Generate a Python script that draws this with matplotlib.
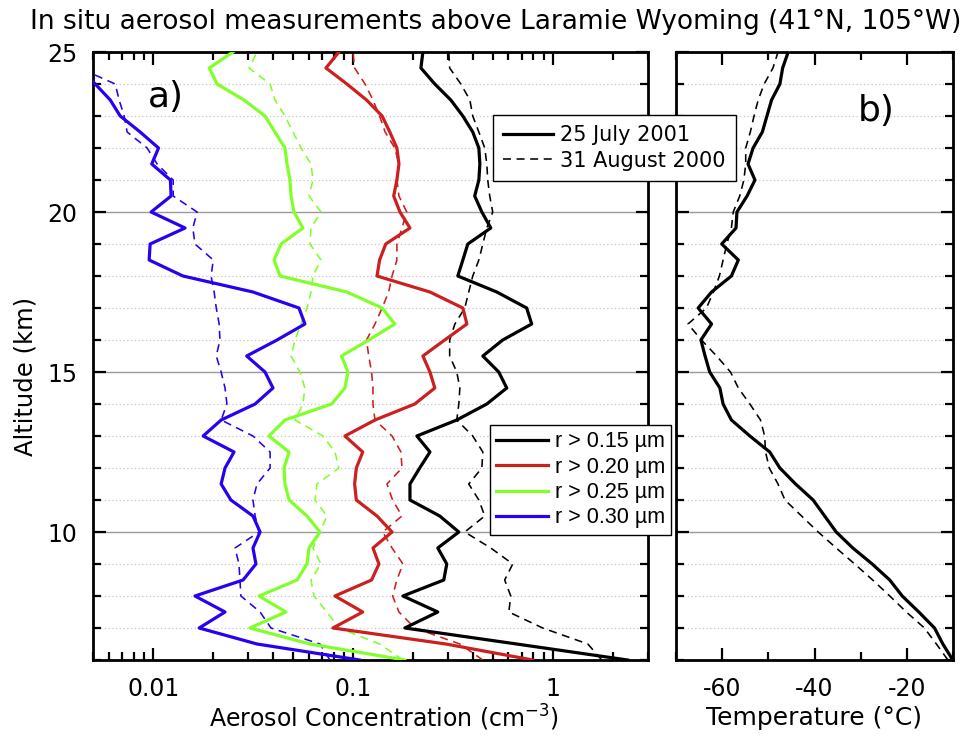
import matplotlib
matplotlib.use("Agg")
import matplotlib.pyplot as plt
from matplotlib.lines import Line2D
from matplotlib.ticker import LogLocator, MultipleLocator, FixedLocator, FixedFormatter, NullFormatter

plt.rcParams['font.family'] = ['DejaVu Sans']
plt.rcParams['axes.unicode_minus'] = False

# Altitude levels of the balloon profiles (km)
altitude_km = [6.0, 6.5, 7.0, 7.5, 8.0, 8.5, 9.0, 9.5, 10.0, 10.5, 11.0, 11.5, 12.0,
               12.5, 13.0, 13.5, 14.0, 14.5, 15.0, 15.5, 16.0, 16.5, 17.0, 17.5, 18.0,
               18.5, 19.0, 19.5, 20.0, 20.5, 21.0, 21.5, 22.0, 22.5, 23.0, 23.5, 24.0,
               24.5, 25.0]

# Aerosol concentrations (cm^-3), 25 July 2001
r015_2001 = [2.37, 0.66, 0.182, 0.266, 0.178, 0.285, 0.295, 0.266, 0.339, 0.272, 0.193, 0.193,
             0.216, 0.243, 0.209, 0.331, 0.468, 0.589, 0.537, 0.447, 0.562, 0.785, 0.741, 0.525,
             0.335, 0.355, 0.376, 0.490, 0.442, 0.407, 0.427, 0.432, 0.427, 0.398, 0.355, 0.309,
             0.257, 0.219, 0.224]
r020_2001 = [0.794, 0.292, 0.0794, 0.112, 0.0813, 0.124, 0.135, 0.126, 0.157, 0.132, 0.104, 0.102,
             0.104, 0.112, 0.0912, 0.129, 0.204, 0.257, 0.243, 0.224, 0.288, 0.372, 0.355, 0.243,
             0.132, 0.136, 0.146, 0.193, 0.172, 0.160, 0.166, 0.170, 0.166, 0.153, 0.140, 0.117,
             0.0933, 0.0733, 0.0851]
r025_2001 = [0.182, 0.061, 0.0305, 0.0462, 0.0339, 0.0525, 0.0589, 0.0603, 0.0684, 0.0589, 0.0479,
             0.0457, 0.0452, 0.0479, 0.0380, 0.0457, 0.0782, 0.0912, 0.0944, 0.0877, 0.120, 0.162,
             0.140, 0.0933, 0.0432, 0.0403, 0.0437, 0.0562, 0.0507, 0.0490, 0.0484, 0.0468, 0.0457,
             0.0407, 0.0363, 0.0285, 0.0209, 0.0191, 0.0251]
r030_2001 = [0.108, 0.0331, 0.0170, 0.0229, 0.0162, 0.0282, 0.0327, 0.0316, 0.0343, 0.0316, 0.0245,
             0.0219, 0.0229, 0.0254, 0.0178, 0.0219, 0.0324, 0.0398, 0.0363, 0.0294, 0.0417, 0.0575,
             0.0537, 0.0316, 0.0141, 0.00955, 0.00966, 0.01445, 0.00977, 0.0123, 0.0122, 0.00984,
             0.01064, 0.00861, 0.00684, 0.0061, 0.00513, 0.00427, 0.00355]

# Aerosol concentrations (cm^-3), 31 August 2000
r015_2000 = [1.76, 1.50, 0.891, 0.603, 0.617, 0.575, 0.631, 0.490, 0.363, 0.457, 0.427, 0.380,
             0.442, 0.447, 0.398, 0.331, 0.339, 0.343, 0.331, 0.305, 0.305, 0.324, 0.363, 0.380,
             0.398, 0.427, 0.447, 0.468, 0.501, 0.484, 0.473, 0.468, 0.457, 0.427, 0.398, 0.385,
             0.347, 0.305, 0.302]
r020_2000 = [0.447, 0.343, 0.204, 0.170, 0.158, 0.166, 0.178, 0.157, 0.141, 0.176, 0.158, 0.148,
             0.176, 0.174, 0.157, 0.129, 0.126, 0.126, 0.124, 0.120, 0.117, 0.129, 0.140, 0.151,
             0.157, 0.166, 0.166, 0.176, 0.186, 0.170, 0.166, 0.170, 0.162, 0.145, 0.136, 0.126,
             0.115, 0.102, 0.100]
r025_2000 = [0.178, 0.136, 0.0851, 0.0741, 0.0638, 0.0617, 0.0692, 0.0631, 0.0684, 0.0741, 0.0646,
             0.0661, 0.0851, 0.0813, 0.0708, 0.0513, 0.0562, 0.0575, 0.0543, 0.0490, 0.0513, 0.0550,
             0.0589, 0.0617, 0.0631, 0.0692, 0.0610, 0.0617, 0.0692, 0.0603, 0.0631, 0.0617, 0.0550,
             0.0501, 0.0457, 0.0407, 0.0385, 0.0302, 0.0331]
r030_2000 = [0.0767, 0.0684, 0.0389, 0.0343, 0.0275, 0.0272, 0.0269, 0.0257, 0.0339, 0.0324, 0.0316,
             0.0331, 0.0385, 0.0385, 0.0316, 0.0219, 0.0234, 0.0229, 0.0219, 0.0207, 0.0216, 0.0214,
             0.0207, 0.0202, 0.0195, 0.0200, 0.0162, 0.0158, 0.0166, 0.0126, 0.0126, 0.01047,
             0.00933, 0.00741, 0.00716, 0.00676, 0.00646, 0.00427, 0.00355]

# Temperature profiles (deg C)
temp_2001 = [-10.05, -12.2, -14.0, -17.4, -21.0, -23.7, -27.5, -31.7, -35.3, -37.8, -40.3, -44.1,
             -47.5, -49.7, -54.0, -58.0, -59.8, -60.5, -62.7, -63.7, -64.6, -62.3, -65.2, -62.3,
             -58.0, -56.5, -60.1, -57.0, -56.8, -54.6, -52.9, -54.4, -53.3, -51.3, -50.3, -49.3,
             -47.5, -46.9, -45.7]
temp_2000 = [-11.1, -13.6, -16.2, -20.1, -23.7, -27.4, -31.3, -35.3, -39.2, -42.8, -46.4, -47.9,
             -49.8, -50.6, -50.8, -51.7, -54.0, -56.5, -58.2, -61.2, -64.5, -67.4, -63.4, -61.9,
             -60.6, -59.8, -59.0, -58.0, -57.6, -56.2, -55.3, -54.9, -54.9, -53.9, -53.1, -52.2,
             -50.9, -49.0, -47.9]

size_labels = ["r > 0.15 µm", "r > 0.20 µm", "r > 0.25 µm", "r > 0.30 µm"]
size_colors = ["#000000", "#CC1F1F", "#80FF2A", "#2A00F0"]
date_labels = ["25 July 2001", "31 August 2000"]
conc_tick_values = [0.01, 0.1, 1]
conc_tick_labels = ["0.01", "0.1", "1"]
alt_tick_values = [10, 15, 20, 25]
temp_tick_values = [-60, -40, -20]

W, H = 974, 737
fig = plt.figure(figsize=(W / 100, H / 100), dpi=100)


def box(left, top, right, bottom):
    return [left / W, 1 - bottom / H, (right - left) / W, (bottom - top) / H]


ax_a = fig.add_axes(box(93, 52, 648, 660))
ax_b = fig.add_axes(box(676, 52, 953, 660))

SOLID_LW = 2.3
DASH_LW = 1.15
DASH = (0, (5, 3.5))

series_2001 = [r015_2001, r020_2001, r025_2001, r030_2001]
series_2000 = [r015_2000, r020_2000, r025_2000, r030_2000]
for vals, col in zip(series_2000, size_colors):
    ax_a.plot(vals, altitude_km, color=col, lw=DASH_LW, linestyle=DASH, zorder=3)
for vals, col in zip(series_2001, size_colors):
    ax_a.plot(vals, altitude_km, color=col, lw=SOLID_LW, zorder=4)

ax_b.plot(temp_2000, altitude_km, color="black", lw=DASH_LW, linestyle=DASH, zorder=3)
ax_b.plot(temp_2001, altitude_km, color="black", lw=SOLID_LW, zorder=4)

ax_a.set_xscale("log")
ax_a.set_xlim(0.005, 3.0)
ax_b.set_xlim(-70, -10)

for ax in (ax_a, ax_b):
    ax.set_ylim(6, 25)
    ax.yaxis.set_major_locator(FixedLocator(alt_tick_values))
    ax.yaxis.set_minor_locator(MultipleLocator(1))
    ax.grid(True, which="major", axis="y", color="#9a9a9a", lw=1.0, zorder=1)
    ax.grid(True, which="minor", axis="y", color="#c8c8c8", lw=0.9,
            linestyle=(0, (1, 2)), zorder=1)
    ax.tick_params(which="both", direction="in", top=True, right=True,
                   width=1.6, colors="black", labelsize=17)
    ax.tick_params(which="major", length=9)
    ax.tick_params(which="minor", length=5.5)
    ax.tick_params(axis="x", pad=12)
    ax.tick_params(axis="y", pad=11)
    for sp in ax.spines.values():
        sp.set_linewidth(2.0)

ax_a.xaxis.set_major_locator(FixedLocator(conc_tick_values))
ax_a.xaxis.set_major_formatter(FixedFormatter(conc_tick_labels))
ax_a.xaxis.set_minor_locator(LogLocator(base=10, subs=range(2, 10)))
ax_a.xaxis.set_minor_formatter(NullFormatter())

ax_b.xaxis.set_major_locator(FixedLocator(temp_tick_values))
ax_b.xaxis.set_minor_locator(MultipleLocator(10))
ax_b.tick_params(axis="y", labelleft=False)

ax_a.set_xlabel("Aerosol Concentration (cm$^{-3}$)", fontsize=17)
ax_a.xaxis.set_label_coords((384 - 93) / 555, -(718 - 660) / 608)
ax_a.xaxis.label.set_va("center")
ax_b.set_xlabel("Temperature (°C)", fontsize=18)
ax_b.xaxis.set_label_coords(0.5, -(718 - 660) / 608)
ax_b.xaxis.label.set_va("center")
ax_a.set_ylabel("Altitude (km)", fontsize=17.5)
ax_a.yaxis.set_label_coords(-(93 - 26) / 555, 1 - (376 - 52) / 608)
ax_a.yaxis.label.set_va("center")

fig.text(30 / W, 1 - 22 / H, "In situ aerosol measurements above Laramie Wyoming (41°N, 105°W)",
         fontsize=19, ha="left", va="center")

ax_a.text(148 / W, 1 - 107 / H, "a)", transform=fig.transFigure, fontsize=26,
          ha="left", va="baseline")
ax_b.text(858 / W, 1 - 121 / H, "b)", transform=fig.transFigure, fontsize=26,
          ha="left", va="baseline")

date_handles = [Line2D([], [], color="black", lw=SOLID_LW),
                Line2D([], [], color="black", lw=DASH_LW, linestyle=DASH)]
leg1 = fig.legend(date_handles, date_labels, loc="upper left",
                  bbox_to_anchor=(493 / W, 1 - 115 / H), fontsize=15, frameon=True,
                  fancybox=False, framealpha=1, edgecolor="black", handlelength=2.4,
                  handletextpad=0.3, borderpad=0.5, labelspacing=0.25, borderaxespad=0)
leg1.get_frame().set_linewidth(1.0)
leg1.set_zorder(10)

size_handles = [Line2D([], [], color=c, lw=SOLID_LW) for c in size_colors]
leg2 = fig.legend(size_handles, size_labels, loc="upper left",
                  bbox_to_anchor=(490 / W, 1 - 425 / H), frameon=True,
                  prop={"family": ["Liberation Sans", "DejaVu Sans"], "size": 15.5},
                  fancybox=False, framealpha=1, edgecolor="black", handlelength=2.4,
                  handletextpad=0.3, borderpad=0.3, labelspacing=0.2, borderaxespad=0)
leg2.get_frame().set_linewidth(1.0)
leg2.set_zorder(10)

fig.savefig("out.png", dpi=100)
